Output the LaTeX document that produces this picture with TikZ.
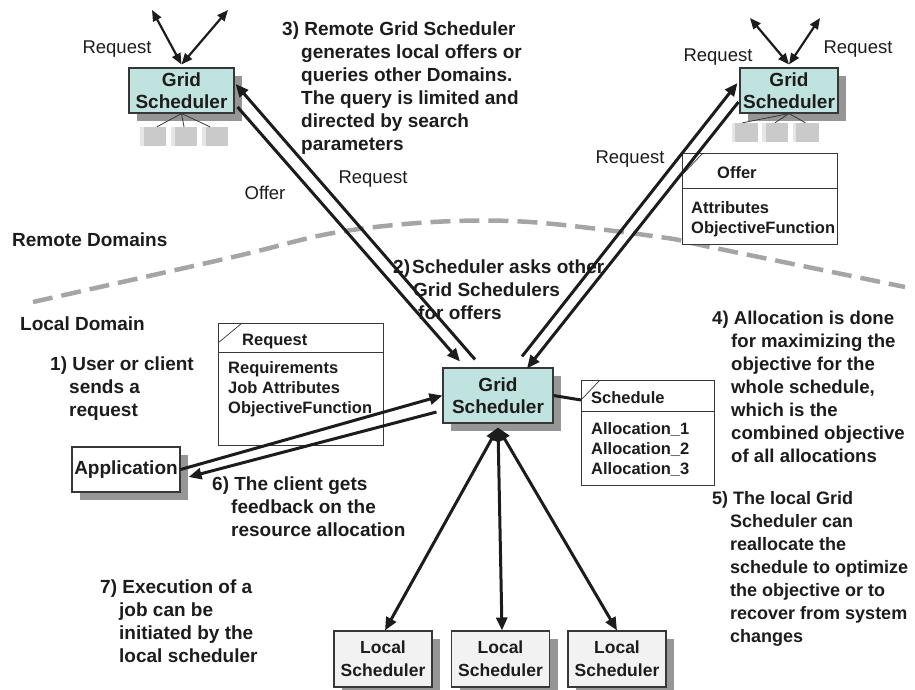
\documentclass[tikz,border=0pt]{standalone}
\usepackage{fontspec}
\setmainfont{Liberation Sans}
\usetikzlibrary{arrows.meta,shadows}

\definecolor{gsfill}{RGB}{193,227,223}
\definecolor{shadowgray}{RGB}{150,150,150}
\definecolor{localfill}{RGB}{242,242,242}
\definecolor{linegray}{RGB}{55,55,55}
\definecolor{inkblack}{RGB}{28,28,28}
\definecolor{dashgray}{RGB}{165,165,165}
\definecolor{cubegray}{RGB}{202,202,202}
\definecolor{cubelight}{RGB}{230,230,230}

\newcommand{\numtag}[1]{#1\ }
\newcommand{\indtext}{\hspace*{19pt}}

\begin{document}
\begin{tikzpicture}[x=1pt,y=-1pt,
  bigfont/.style={font=\fontsize{19}{23}\selectfont\bfseries},
  boxfont/.style={font=\fontsize{16.5}{20.3}\selectfont\bfseries},
  lblfont/.style={font=\fontsize{18.5}{22}\selectfont},
  shadowed/.style={drop shadow={shadow xshift=8pt,shadow yshift=-8pt,fill=shadowgray,opacity=1}},
  schedbox/.style={draw=linegray,line width=1.1pt,fill=gsfill,inner sep=0pt,align=center,
    text=inkblack,shadowed,font=\fontsize{19}{22.5}\selectfont\bfseries},
  localbox/.style={draw=linegray,line width=1.1pt,fill=localfill,inner sep=0pt,align=center,
    text=inkblack,shadowed,minimum width=98pt,minimum height=56pt,
    font=\fontsize{17.5}{23}\selectfont\bfseries},
  appbox/.style={draw=linegray,line width=1.1pt,fill=white,inner sep=0pt,align=center,
    text=inkblack,shadowed,minimum width=108pt,minimum height=45pt,bigfont},
  notebox/.style={draw=linegray,line width=1pt,fill=white,inner sep=0pt,anchor=north west},
  notefine/.style={draw=linegray,line width=0.9pt},
  cornerfine/.style={draw=linegray,line width=0.7pt},
  cube/.style={draw=none,fill=cubegray,minimum width=26pt,minimum height=19pt,inner sep=0pt,
    path picture={\fill[cubelight] (path picture bounding box.north west) rectangle
      ([xshift=3.5pt]path picture bounding box.south west);}},
  tickline/.style={draw=linegray,line width=0.8pt},
  msg/.style={draw=inkblack,line width=3pt,-{Triangle[length=13pt,width=11pt]}},
  plainmsg/.style={draw=inkblack,line width=3pt},
  dblmsg/.style={draw=inkblack,line width=3pt,
    {Triangle[length=13pt,width=11pt]}-{Triangle[length=13pt,width=11pt]}},
  thindbl/.style={draw=inkblack,line width=2.2pt,
    {Triangle[length=11pt,width=9pt]}-{Triangle[length=11pt,width=9pt]}},
  txt/.style={anchor=north west,inner sep=0pt,align=left,text=inkblack,bigfont},
  lbl/.style={anchor=base,inner sep=0pt,text=inkblack,lblfont}
]
\useasboundingbox (0,0) rectangle (915,689);

% domain border
\draw[dashgray,line width=4.5pt,dash pattern=on 20pt off 9pt]
  plot[smooth,tension=0.55] coordinates
  {(33,302) (233,257) (333,233) (433,222) (530,222) (660,237) (710,247) (905,287)};

% schedulers
\node[schedbox,minimum width=110pt,minimum height=55pt] (gsm) at (498,395.5) {Grid\\Scheduler};
\node[schedbox,minimum width=105pt,minimum height=45pt] (gsl) at (181.5,90.5) {Grid\\Scheduler};
\node[schedbox,minimum width=98pt,minimum height=45pt] (gsr) at (789,90.5) {Grid\\Scheduler};

% resources under the remote schedulers
\node[cube] (cl1) at (153,136.5) {};
\node[cube] (cl2) at (184,136.5) {};
\node[cube] (cl3) at (215,136.5) {};
\node[cube] (cr1) at (744.5,132.5) {};
\node[cube] (cr2) at (775,132.5) {};
\node[cube] (cr3) at (805.5,132.5) {};
\draw[tickline] (gsl.south) -- ([xshift=4pt]cl1.north);
\draw[tickline] (gsl.south) -- (cl2.north);
\draw[tickline] (gsl.south) -- ([xshift=-5pt]cl3.north);
\draw[tickline] (gsr.south) -- ([xshift=-2pt]cr1.north);
\draw[tickline] (gsr.south) -- (cr2.north);
\draw[tickline] (gsr.south) -- (cr3.north);

% local schedulers and application
\node[localbox] (ls1) at (383,659) {Local\\Scheduler};
\node[localbox] (ls2) at (500.5,659) {Local\\Scheduler};
\node[localbox] (ls3) at (617,659) {Local\\Scheduler};
\node[appbox] (app) at (126,469.5) {Application};

% message boxes
\node[notebox,minimum width=165pt,minimum height=122pt] (reqnote) at (218,323) {};
\draw[notefine] ([yshift=-29pt]reqnote.north west) -- ([yshift=-29pt]reqnote.north east);
\draw[cornerfine] ([yshift=-20pt]reqnote.north west) -- ([xshift=24pt]reqnote.north west);
\node[anchor=base west,inner sep=0pt,boxfont,text=inkblack] (reqhead) at (242,345) {Request};
\node[anchor=north west,inner sep=0pt,boxfont,align=left,text=inkblack] (reqbody) at (228,361)
  {Requirements\\Job Attributes\\ObjectiveFunction};

\node[notebox,minimum width=155pt,minimum height=91pt] (offnote) at (682,153) {};
\draw[notefine] ([yshift=-35pt]offnote.north west) -- ([yshift=-35pt]offnote.north east);
\draw[cornerfine] ([yshift=-22pt]offnote.north west) -- ([xshift=21pt]offnote.north west);
\node[anchor=base west,inner sep=0pt,boxfont,text=inkblack] (offhead) at (717,178) {Offer};
\node[anchor=north west,inner sep=0pt,boxfont,align=left,text=inkblack] (offbody) at (691,201)
  {Attributes\\ObjectiveFunction};

\node[notebox,minimum width=133pt,minimum height=105pt] (schnote) at (581,380) {};
\draw[notefine] ([yshift=-31pt]schnote.north west) -- ([yshift=-31pt]schnote.north east);
\draw[cornerfine] ([yshift=-20pt]schnote.north west) -- ([xshift=19pt]schnote.north west);
\node[anchor=base west,inner sep=0pt,boxfont,text=inkblack] (schhead) at (591,403) {Schedule};
\node[anchor=north west,inner sep=0pt,boxfont,align=left,text=inkblack] (schbody) at (591,422)
  {Allocation\_1\\Allocation\_2\\Allocation\_3};
\draw[plainmsg] (gsm.east) -- ([yshift=-20pt]schnote.north west);

% remote requests leaving the remote domains
\coordinate (lupA) at (152,10);
\coordinate (lupB) at (228,10);
\coordinate (rupA) at (750,18);
\coordinate (rupB) at (820,18);
\draw[thindbl] ([yshift=3pt]gsl.north) -- (lupA);
\draw[thindbl] ([yshift=3pt]gsl.north) -- (lupB);
\draw[thindbl] ([yshift=3pt]gsr.north) -- (rupA);
\draw[thindbl] ([yshift=3pt]gsr.north) -- (rupB);

% local scheduler <-> remote schedulers
\draw[msg] ([xshift=-23pt,yshift=8pt]gsm.north) -- ([xshift=1pt,yshift=6.5pt]gsl.east);
\draw[msg] ([xshift=3pt,yshift=-16.5pt]gsl.east) -- ([xshift=-38pt,yshift=6pt]gsm.north);
\draw[msg] ([xshift=24pt,yshift=11pt]gsm.north) -- ([xshift=-2pt,yshift=7.5pt]gsr.west);
\draw[msg] ([xshift=-1pt,yshift=-11.5pt]gsr.west) -- ([xshift=29pt,yshift=-1pt]gsm.north);

% application <-> local scheduler
\draw[msg] (app.east) -- (gsm.west);
\draw[msg] ([xshift=-6pt,yshift=-16.5pt]gsm.west) -- ([xshift=8pt,yshift=-7.5pt]app.east);

% local scheduler <-> local resources
\draw[dblmsg] ([yshift=-4pt]gsm.south) -- ([xshift=2pt]ls1.north);
\draw[dblmsg] ([yshift=-4pt]gsm.south) -- ([xshift=1.5pt]ls2.north);
\draw[dblmsg] ([yshift=-4pt]gsm.south) -- (ls3.north);

% connector labels
\node[lbl] (rq1) at (117,53.5) {Request};
\node[lbl] (rq2) at (718,61.5) {Request};
\node[lbl] (rq3) at (858,53.5) {Request};
\node[lbl] (rq4) at (630,163.5) {Request};
\node[lbl] (rq5) at (373,183.5) {Request};
\node[lbl] (of1) at (265,199.5) {Offer};

% domain names
\node[txt] (remdom) at (12,233) {Remote Domains};
\node[txt] (locdom) at (20,317) {Local Domain};

% numbered steps
\node[txt] (step1) at (50,357) {\numtag{1)}User or client\\\indtext sends a\\\indtext request};
\node[txt] (step2) at (393,260) {2)\hspace{2pt}Scheduler asks other\\\hspace*{20pt}Grid Schedulers\\\hspace*{25pt}for offers};
\node[txt] (step3) at (282,22) {\numtag{3)}Remote Grid Scheduler\\\indtext generates local offers or\\\indtext queries other Domains.\\\indtext The query is limited and\\\indtext directed by search\\\indtext parameters};
\node[txt,font=\fontsize{18.6}{23}\selectfont\bfseries] (step4) at (712,311) {\numtag{4)}Allocation is done\\\indtext for maximizing the\\\indtext objective for the\\\indtext whole schedule,\\\indtext which is the\\\indtext combined objective\\\indtext of all allocations};
\node[txt,font=\fontsize{18}{23}\selectfont\bfseries] (step5) at (712,491) {\numtag{5)}The local Grid\\\hspace*{18pt}Scheduler can\\\hspace*{18pt}reallocate the\\\hspace*{18pt}schedule to optimize\\\hspace*{18pt}the objective or to\\\hspace*{18pt}recover from system\\\hspace*{18pt}changes};
\node[txt] (step6) at (212,477) {\numtag{6)}The client gets\\\indtext feedback on the\\\indtext resource allocation};
\node[txt] (step7) at (100,580) {\numtag{7)}Execution of a\\\indtext job can be\\\indtext initiated by the\\\indtext local scheduler};
\end{tikzpicture}
\end{document}
